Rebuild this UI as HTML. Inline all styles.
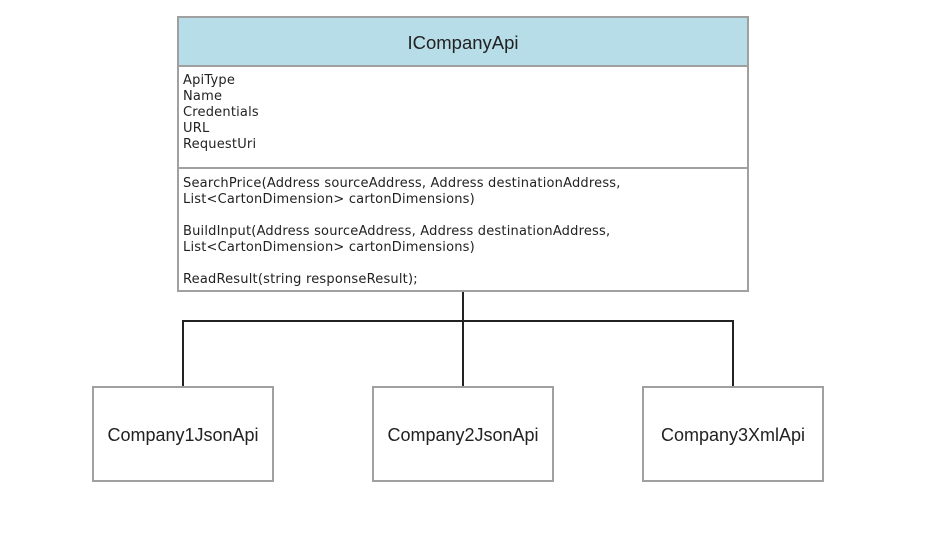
<!DOCTYPE html>
<html><head><style>
body{margin:0;width:934px;height:533px;background:#fff;position:relative;overflow:hidden;font-family:"DejaVu Sans","Liberation Sans",sans-serif;color:#222}
.b{position:absolute;box-sizing:border-box;border:2px solid #a0a0a0;background:#fff}
.t{position:absolute;font-size:13px;line-height:16px;left:183px;white-space:pre;letter-spacing:0.2px}
.l{position:absolute;background:#222}
.n{display:flex;align-items:center;justify-content:center;font-family:"Liberation Sans",sans-serif;font-size:18px;padding-top:3px}
</style></head><body>
<div class="b" style="left:177px;top:16px;width:572px;height:276px"></div>
<div class="b n" style="left:177px;top:16px;width:572px;height:51px;background:#b7dde8;font-size:18.5px">ICompanyApi</div>
<div class="l" style="left:179px;top:167px;width:568px;height:2px;background:#a0a0a0"></div>
<div class="t" style="top:73px">ApiType
Name
Credentials
URL
RequestUri</div>
<div class="t" style="top:176px">SearchPrice(Address sourceAddress, Address destinationAddress,
List&lt;CartonDimension&gt; cartonDimensions)

BuildInput(Address sourceAddress, Address destinationAddress,
List&lt;CartonDimension&gt; cartonDimensions)

ReadResult(string responseResult);</div>
<div class="l" style="left:462px;top:292px;width:2px;height:94px"></div>
<div class="l" style="left:182px;top:320px;width:552px;height:2px"></div>
<div class="l" style="left:182px;top:320px;width:2px;height:66px"></div>
<div class="l" style="left:732px;top:320px;width:2px;height:66px"></div>
<div class="b n" style="left:92px;top:386px;width:182px;height:96px">Company1JsonApi</div>
<div class="b n" style="left:372px;top:386px;width:182px;height:96px">Company2JsonApi</div>
<div class="b n" style="left:642px;top:386px;width:182px;height:96px">Company3XmlApi</div>
</body></html>
